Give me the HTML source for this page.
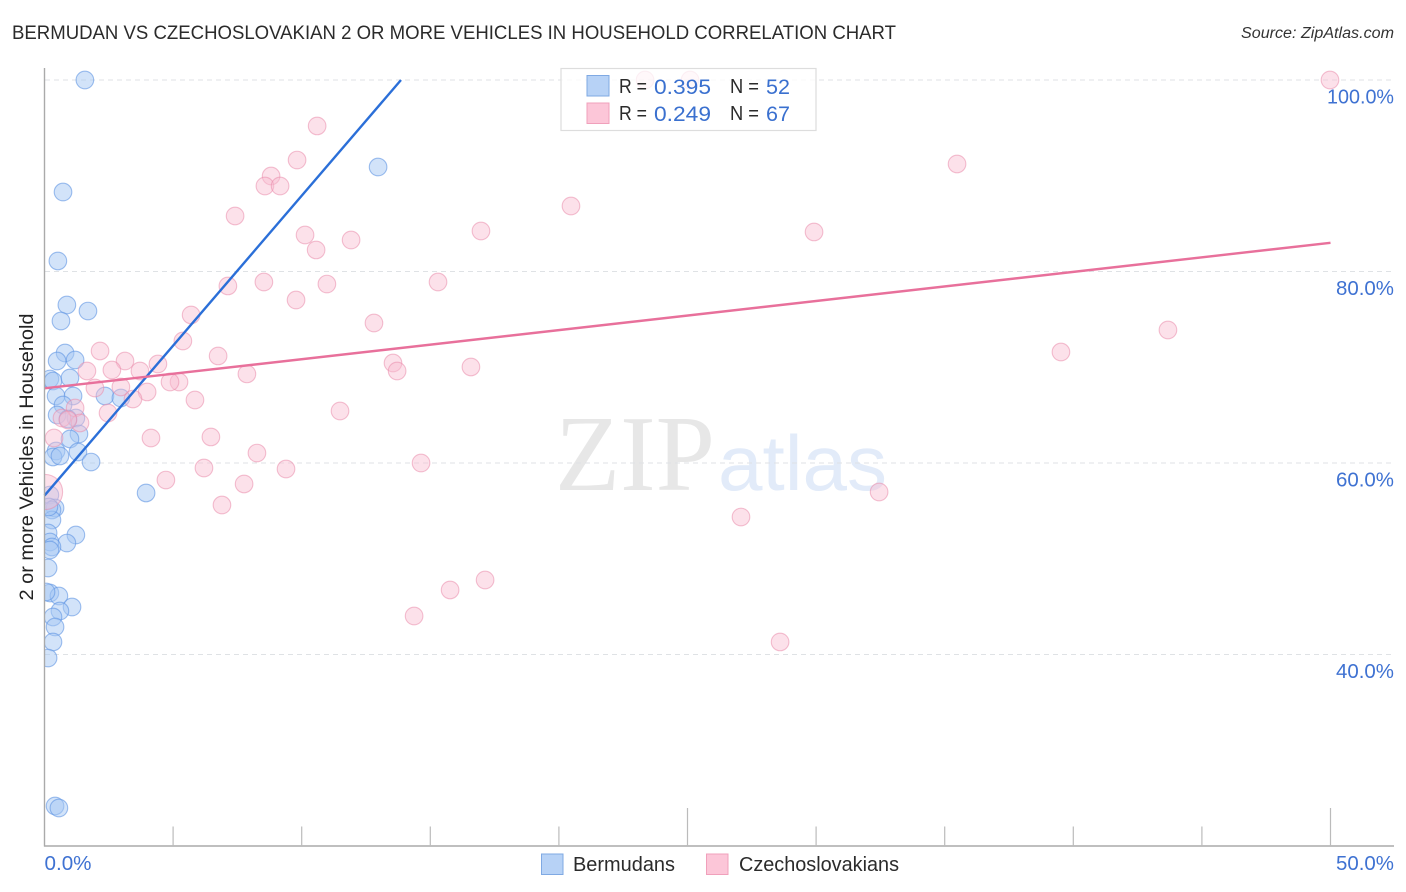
<!DOCTYPE html>
<html lang="en">
<head>
<meta charset="utf-8">
<title>Bermudan vs Czechoslovakian 2 or more Vehicles in Household Correlation Chart</title>
<style>
html,body{margin:0;padding:0;background:#fff;}
body{width:1406px;height:892px;overflow:hidden;}
svg{display:block;}
text{font-family:"Liberation Sans",sans-serif;}
</style>
</head>
<body>
<svg id="chart" xmlns="http://www.w3.org/2000/svg" width="1406" height="892" viewBox="0 0 1406 892">
  <defs>
    <clipPath id="plot-clip"><rect x="45" y="60" width="1361" height="786"/></clipPath>
  </defs>
  <text x="12" y="39" font-size="19" fill="#2b2b2b" textLength="884" lengthAdjust="spacingAndGlyphs">BERMUDAN VS CZECHOSLOVAKIAN 2 OR MORE VEHICLES IN HOUSEHOLD CORRELATION CHART</text>
  <text x="1241" y="38" font-size="15.5" font-style="italic" fill="#333" textLength="153" lengthAdjust="spacingAndGlyphs">Source: ZipAtlas.com</text>

  <g>
    <text x="555" y="490" font-size="108" fill="#e7e7e7" textLength="160" lengthAdjust="spacingAndGlyphs" style="font-family:'Liberation Serif',serif">ZIP</text>
    <text x="718" y="490" font-size="78" fill="#e2ebf9" textLength="169" lengthAdjust="spacingAndGlyphs">atlas</text>
  </g>

  <g id="grid"></g>
  <g id="points" clip-path="url(#plot-clip)"></g>
  <g id="trends"></g>
  <g id="axes"></g>

  <text transform="translate(33,457) rotate(-90)" font-size="19" fill="#222" text-anchor="middle" textLength="287" lengthAdjust="spacingAndGlyphs">2 or more Vehicles in Household</text>

  <g>
    <rect x="561" y="68.5" width="255" height="62" fill="#fff" fill-opacity="0.76" stroke="#dddddd" stroke-width="1.2"/>
    <rect x="587" y="75.5" width="22" height="20.5" fill="#b7d2f6" stroke="#7fa9e3" stroke-width="1"/>
    <rect x="587" y="103" width="22" height="20.5" fill="#fcc6d8" stroke="#f0a0bb" stroke-width="1"/>
    <text x="619" y="93" font-size="20" fill="#2b2b2b" textLength="28" lengthAdjust="spacingAndGlyphs">R =</text>
    <text x="654" y="94" font-size="21" fill="#3a70cf" textLength="57" lengthAdjust="spacingAndGlyphs">0.395</text>
    <text x="730" y="93" font-size="20" fill="#2b2b2b" textLength="29" lengthAdjust="spacingAndGlyphs">N =</text>
    <text x="766" y="94" font-size="21" fill="#3a70cf" textLength="24" lengthAdjust="spacingAndGlyphs">52</text>
    <text x="619" y="120" font-size="20" fill="#2b2b2b" textLength="28" lengthAdjust="spacingAndGlyphs">R =</text>
    <text x="654" y="121" font-size="21" fill="#3a70cf" textLength="57" lengthAdjust="spacingAndGlyphs">0.249</text>
    <text x="730" y="120" font-size="20" fill="#2b2b2b" textLength="29" lengthAdjust="spacingAndGlyphs">N =</text>
    <text x="766" y="121" font-size="21" fill="#3a70cf" textLength="24" lengthAdjust="spacingAndGlyphs">67</text>
  </g>

  <g>
    <rect x="541.5" y="854" width="21.5" height="20.5" fill="#b7d2f6" stroke="#7fa9e3" stroke-width="1"/>
    <text x="573" y="871" font-size="20" fill="#2b2b2b" textLength="102" lengthAdjust="spacingAndGlyphs">Bermudans</text>
    <rect x="706.5" y="854" width="21.5" height="20.5" fill="#fcc6d8" stroke="#f0a0bb" stroke-width="1"/>
    <text x="739" y="871" font-size="20" fill="#2b2b2b" textLength="160" lengthAdjust="spacingAndGlyphs">Czechoslovakians</text>
  </g>
</svg>

<script>
// ---- chart data (percent values) ----
const bermudanX = [1.57,12.97,0.72,0.52,0.87,0.64,1.69,0.80,1.19,0.49,0.21,0.33,0.99,2.35,2.97,0.45,1.11,0.72,0.49,1.22,0.91,1.34,0.99,0.45,0.33,0.60,1.30,1.81,3.95,0.21,0.41,0.29,0.29,1.22,0.87,0.14,0.21,0.29,0.21,0.14,0.21,0.56,1.07,0.60,0.33,0.41,0.33,0.14,0.41,0.56,0.06,0.17];
const bermudanY = [100,90.91,88.30,81.10,76.50,74.83,75.87,71.49,70.76,70.65,68.77,68.56,68.88,67.00,66.79,67.00,67.00,66.06,65.01,64.70,64.60,63.03,62.51,61.25,60.63,60.73,61.15,60.10,56.87,56.66,55.30,55.09,54.05,52.48,51.64,52.69,51.75,51.23,50.91,49.03,46.42,46.11,44.96,44.54,43.92,42.87,41.31,39.63,24.18,23.97,46.53,55.41];
const czechX = [23.35,25.10,49.98,10.60,35.48,9.82,8.81,8.57,9.16,20.47,7.41,29.92,16.97,10.13,11.92,10.56,7.13,8.53,10.98,15.30,9.78,5.70,12.81,43.68,39.52,5.38,2.16,6.75,3.13,13.55,1.65,2.62,3.71,4.41,13.71,16.58,7.87,5.23,4.88,1.96,2.97,3.99,3.44,5.85,11.49,2.47,1.19,1.38,0.68,0.91,4.14,6.47,0.37,8.26,6.20,9.39,14.64,4.72,7.76,32.45,6.90,27.08,17.13,15.77,14.37,28.60,0.02];
const czechY = [100,100,100,95.20,91.23,91.64,89.97,88.93,88.93,86.84,85.80,84.13,84.23,83.81,83.29,82.25,78.49,78.90,78.69,78.90,77.02,75.46,74.62,73.89,71.59,72.74,71.70,71.18,70.65,70.44,69.61,69.71,69.61,70.34,69.61,70.03,69.30,68.46,68.46,67.83,67.94,67.42,66.68,66.58,65.43,65.22,65.75,64.18,64.70,64.49,62.61,62.72,62.61,61.04,59.48,59.37,60.00,58.22,57.81,56.97,55.61,54.36,47.78,46.74,44.02,41.31,56.97];
// number of records merged into one marker (area scales with it)
const czechWeights = czechX.map(function (_, i) { return i === czechX.length - 1 ? 4 : 1; });
const bermudanTrendX = [0, 13.86];
const bermudanTrendY = [56.6, 100];
const czechTrendX = [0, 50];
const czechTrendY = [67.8, 83.0];
const yTicks = [100, 80, 60, 40];
const yTickLabels = ["100.0%", "80.0%", "60.0%", "40.0%"];
const xTicks = [5, 10, 15, 20, 25, 30, 35, 40, 45, 50];
const xMajorTicks = [25, 50];
const xEndTicks = [0, 50];
const xEndLabels = ["0.0%", "50.0%"];

// ---- axis functions ----
function xScale(v) { return 44.5 + v * 25.72; }
function yScale(v) { return 80 + (100 - v) * 9.575; }
function labelWidth(s) { return s.length === 6 ? 67 : s.length === 5 ? 58 : 47; }

const NS = "http://www.w3.org/2000/svg";
function make(tag, attrs, parent) {
  const el = document.createElementNS(NS, tag);
  for (const k in attrs) el.setAttribute(k, attrs[k]);
  parent.appendChild(el);
  return el;
}

const grid = document.getElementById("grid");
const pts = document.getElementById("points");
const trends = document.getElementById("trends");
const axes = document.getElementById("axes");

// gridlines + y tick labels
yTicks.forEach(function (t, i) {
  const line = make("line", {x1: 45, x2: 1394, y1: yScale(t), y2: yScale(t), stroke: "#dfe2e5", "stroke-width": 1, "stroke-dasharray": "5 4"}, grid);
  
  
  const w = labelWidth(yTickLabels[i]);
  const label = make("text", {x: 1394 - w, y: yScale(t) + 23.5, "font-size": 20, fill: "#3f72d2", textLength: w, lengthAdjust: "spacingAndGlyphs"}, axes);
  
  
  label.textContent = yTickLabels[i];
});

// axis lines
const yAxis = make("line", {x1: 44.5, x2: 44.5, y1: 68, y2: 846.5, stroke: "#aaaaaa", "stroke-width": 1.4}, axes);


const xAxis = make("line", {x1: 44, x2: 1394, y1: 846, y2: 846, stroke: "#aaaaaa", "stroke-width": 1.4}, axes);



// x ticks
xTicks.forEach(function (t) {
  const top = xMajorTicks.indexOf(t) >= 0 ? 808 : 826.5;
  const tick = make("line", {x1: xScale(t), x2: xScale(t), y1: top, y2: 846, stroke: "#bbbbbb", "stroke-width": 1.2}, axes);
  
  
});
xEndTicks.forEach(function (t, i) {
  const w = labelWidth(xEndLabels[i]);
  const label = make("text", {x: i === 0 ? xScale(t) : 1394 - w, y: 870, "font-size": 20, fill: "#3f72d2", textLength: w, lengthAdjust: "spacingAndGlyphs"}, axes);
  
  
  label.textContent = xEndLabels[i];
});

// points
const R = 8.8;
bermudanX.forEach(function (v, i) {
  const c = make("circle", {cx: xScale(v), cy: yScale(bermudanY[i]), r: R, fill: "#a6c8f4", "fill-opacity": 0.5, stroke: "#5f95e2", "stroke-opacity": 0.6, "stroke-width": 1.1}, pts);
  
  
});
czechX.forEach(function (v, i) {
  const c = make("circle", {cx: xScale(v), cy: yScale(czechY[i]), r: R * Math.sqrt(czechWeights[i]), fill: "#f9bdd0", "fill-opacity": 0.45, stroke: "#ea8cac", "stroke-opacity": 0.55, "stroke-width": 1.1}, pts);
  
  
});

// trend lines
const bl = make("line", {x1: xScale(bermudanTrendX[0]), y1: yScale(bermudanTrendY[0]), x2: xScale(bermudanTrendX[1]), y2: yScale(bermudanTrendY[1]), stroke: "#2b6fd8", "stroke-width": 2.4}, trends);


const pl = make("line", {x1: xScale(czechTrendX[0]), y1: yScale(czechTrendY[0]), x2: xScale(czechTrendX[1]), y2: yScale(czechTrendY[1]), stroke: "#e8709b", "stroke-width": 2.4}, trends);


</script>
</body>
</html>
